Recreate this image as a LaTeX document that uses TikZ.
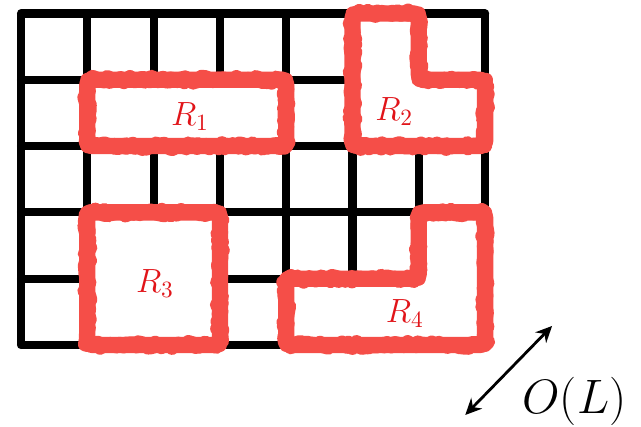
\documentclass[tikz,border=0pt]{standalone}
\usetikzlibrary{arrows.meta,decorations.pathmorphing}
\definecolor{regred}{RGB}{245,78,72}
\definecolor{labred}{RGB}{225,20,25}
\begin{document}
\begin{tikzpicture}[x=1cm,y=1cm,
  gridline/.style={line width=3.5pt, black, line cap=round, line join=round},
  region/.style={draw=regred, line width=7pt, fill=white, rounded corners=2pt, line join=round},
  rough/.style={draw=regred, line width=6pt, line join=round,
    decorate, decoration={random steps, segment length=1.2pt, amplitude=1.3pt}},
  regionlabel/.style={text=labred, font=\fontsize{14}{17}\selectfont, inner sep=0pt},
  dblarrow/.style={{Stealth[length=7pt,width=6.5pt]}-{Stealth[length=7pt,width=6.5pt]}, line width=1.2pt, black}
]
\useasboundingbox (-0.317,-1.222) rectangle (9.351,5.203);
% grid
\draw[gridline] (0,0) grid (7,5);
% regions
\draw[region] (1,3) rectangle (4,4);
\draw[rough] (1,3) rectangle (4,4);
\draw[region] (5,5) -- (6,5) -- (6,4) -- (7,4) -- (7,3) -- (5,3) -- cycle;
\draw[rough] (5,5) -- (6,5) -- (6,4) -- (7,4) -- (7,3) -- (5,3) -- cycle;
\draw[region] (1,0) rectangle (3,2);
\draw[rough] (1,0) rectangle (3,2);
\draw[region] (4,0) -- (7,0) -- (7,2) -- (6,2) -- (6,1) -- (4,1) -- cycle;
\draw[rough] (4,0) -- (7,0) -- (7,2) -- (6,2) -- (6,1) -- (4,1) -- cycle;
% labels
\node[regionlabel] (r1) at (2.55,3.45) {$R_1$};
\node[regionlabel] (r2) at (5.63,3.52) {$R_2$};
\node[regionlabel] (r3) at (2.02,0.92) {$R_3$};
\node[regionlabel] (r4) at (5.79,0.48) {$R_4$};
% size arrow
\coordinate (a1) at (6.70,-1.056);
\coordinate (a2) at (8.01,0.287);
\draw[dblarrow] (a1) -- (a2);
\node[anchor=base west, inner sep=0pt, font=\fontsize{21}{25}\selectfont] (ol) at (7.556,-1.026) {$O(L)$};
\end{tikzpicture}
\end{document}
